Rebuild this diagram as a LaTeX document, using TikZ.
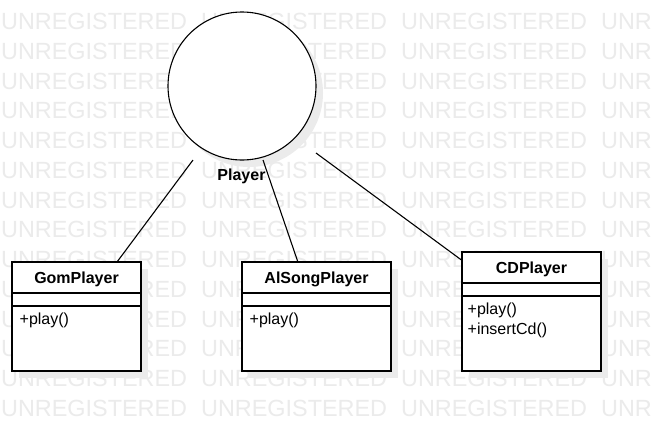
\documentclass[tikz,border=0pt]{standalone}
\usepackage{fontspec}
\setmainfont{Liberation Sans}
\usetikzlibrary{shadows}
\begin{document}
\begin{tikzpicture}[x=1pt,y=-1pt,
  wm/.style={text=black!8, font=\fontsize{23.4}{28}\selectfont, inner sep=0pt, anchor=base west},
  shd/.style={drop shadow={shadow xshift=7pt, shadow yshift=-7pt, fill=black!8, opacity=1}},
  classbox/.style={draw, fill=white, line width=1.1pt, rectangle, inner sep=0pt, outer sep=0pt, anchor=north west, shd},
  title/.style={font=\fontsize{16}{19}\selectfont\bfseries, inner sep=0pt},
  member/.style={font=\fontsize{16}{20}\selectfont, inner sep=0pt, anchor=west, align=left},
  sep/.style={line width=1.1pt},
  link/.style={line width=1.1pt}]
\fill[white] (0,0) rectangle (651,421);
\useasboundingbox (0,0) rectangle (651,421);
% watermark
\begin{scope}
\clip (0,0) rectangle (651,421);
\foreach \r in {0,...,13}{\foreach \c in {0,...,3}{
  \node[wm] (wm-\r-\c) at ({200*\c+1},{29.5+29.75*\r}) {UNREGISTERED};
}}
\end{scope}
% interface
\node[draw, circle, fill=white, line width=1.1pt, minimum size=148pt, inner sep=0pt, shd] (player) at (242,86) {};
\node[title] (playerlabel) at (241.5,176) {Player};
% classes
\node[classbox, minimum width=129pt, minimum height=109pt] (gom) at (12,262) {};
\node[classbox, minimum width=149pt, minimum height=109pt] (alsong) at (242,262) {};
\node[classbox, minimum width=139pt, minimum height=119pt] (cd) at (462,252) {};
\foreach \b in {gom,alsong,cd}{
  \draw[sep] ([yshift=-31pt]\b.north west) -- ([yshift=-31pt]\b.north east);
  \draw[sep] ([yshift=-44pt]\b.north west) -- ([yshift=-44pt]\b.north east);
}
\node[title] (gom-name) at ([yshift=-17.8pt]gom.north) {GomPlayer};
\node[title] (alsong-name) at ([yshift=-17.8pt]alsong.north) {AlSongPlayer};
\node[title] (cd-name) at ([yshift=-17.8pt]cd.north) {CDPlayer};
\node[member] (gom-ops) at ([xshift=7.5pt,yshift=-58.8pt]gom.north west) {+play()};
\node[member] (alsong-ops) at ([xshift=7.5pt,yshift=-58.8pt]alsong.north west) {+play()};
\node[member] (cd-ops) at ([xshift=5.5pt,yshift=-67.9pt]cd.north west) {+play()\\+insertCd()};
% connectors
\coordinate (g1) at (193,160);
\coordinate (a1) at (263,160);
\coordinate (c1) at (316,153);
\draw[link] (g1) -- (gom);
\draw[link] (a1) -- (alsong);
\draw[link] (c1) -- (cd);
\end{tikzpicture}
\end{document}
